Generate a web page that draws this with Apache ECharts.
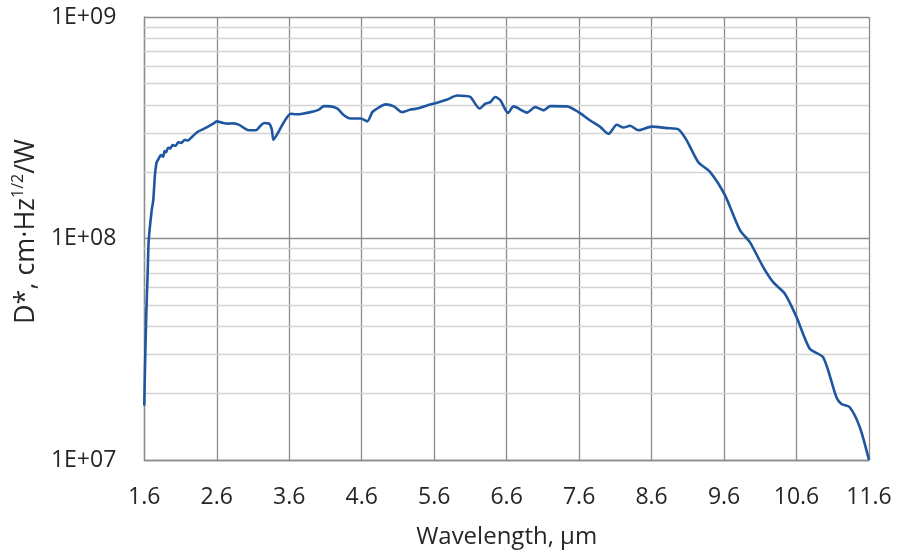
<!DOCTYPE html>
<html>
<head>
<meta charset="utf-8">
<script src="https://cdn.jsdelivr.net/npm/echarts@6/dist/echarts.min.js"></script>
<style>html,body{margin:0;padding:0;background:#fff}#c{width:899px;height:555px}</style>
</head>
<body>
<div id="c"></div>
<script>
// Wavelength (µm)
const wavelength = [1.600,1.610,1.628,1.647,1.661,1.702,1.724,1.747,1.770,1.800,1.830,1.860,1.880,1.900,1.930,1.960,1.990,2.030,2.070,2.110,2.160,2.200,2.250,2.300,2.336,2.400,2.473,2.540,2.601,2.680,2.749,2.830,2.909,2.980,3.046,3.139,3.200,3.253,3.322,3.360,3.382,3.437,3.528,3.621,3.700,3.782,3.896,4.010,4.079,4.172,4.264,4.355,4.447,4.585,4.677,4.746,4.792,4.929,5.044,5.159,5.274,5.366,5.504,5.641,5.779,5.917,6.020,6.100,6.228,6.307,6.375,6.444,6.513,6.619,6.696,6.881,6.995,7.110,7.202,7.432,7.592,7.753,7.891,8.005,8.121,8.212,8.304,8.418,8.603,8.809,8.969,9.085,9.245,9.406,9.612,9.819,9.956,10.140,10.278,10.439,10.600,10.783,10.967,11.151,11.220,11.334,11.472,11.600];
// Specific detectivity D* (cm·Hz^1/2/W)
const detectivity = [1.76e7,2.63e7,4.6e7,7.0e7,9.8e7,1.34e8,1.49e8,1.93e8,2.20e8,2.30e8,2.38e8,2.34e8,2.48e8,2.45e8,2.57e8,2.55e8,2.64e8,2.62e8,2.72e8,2.70e8,2.79e8,2.77e8,2.86e8,2.96e8,3.03e8,3.10e8,3.19e8,3.28e8,3.38e8,3.33e8,3.30e8,3.31e8,3.26e8,3.15e8,3.08e8,3.08e8,3.22e8,3.32e8,3.30e8,3.10e8,2.79e8,2.97e8,3.36e8,3.66e8,3.64e8,3.66e8,3.72e8,3.82e8,3.96e8,3.95e8,3.86e8,3.60e8,3.48e8,3.48e8,3.38e8,3.72e8,3.82e8,4.03e8,3.95e8,3.72e8,3.82e8,3.86e8,3.99e8,4.10e8,4.24e8,4.42e8,4.40e8,4.35e8,3.86e8,4.06e8,4.13e8,4.35e8,4.21e8,3.69e8,3.95e8,3.70e8,3.92e8,3.79e8,3.96e8,3.95e8,3.72e8,3.41e8,3.19e8,2.97e8,3.26e8,3.17e8,3.23e8,3.08e8,3.20e8,3.15e8,3.11e8,2.77e8,2.21e8,2.00e8,1.57e8,1.09e8,9.63e7,7.43e7,6.35e7,5.63e7,4.42e7,3.18e7,2.91e7,1.92e7,1.79e7,1.73e7,1.41e7,1.00e7];
// Tick labels
const xTickLabels = ['1.6','2.6','3.6','4.6','5.6','6.6','7.6','8.6','9.6','10.6','11.6'];
const yTickLabels = ['1E+07','1E+08','1E+09'];
// Minor log gridline values
const minorGridValues = [2e7,3e7,4e7,5e7,6e7,7e7,8e7,9e7,2e8,3e8,4e8,5e8,6e8,7e8,8e8,9e8];

const FONT = 'Open Sans';
const chart = echarts.init(document.getElementById('c'), null, {renderer: 'canvas'});
const seriesData = wavelength.map((w, i) => [w, detectivity[i]]);

chart.setOption({
  animation: false,
  backgroundColor: '#ffffff',
  grid: {left: 143, top: 17, width: 726, height: 443, containLabel: false},
  xAxis: {
    type: 'value', min: 1.6, max: 11.6, interval: 1,
    name: 'Wavelength, µm', nameLocation: 'middle', nameGap: 65,
    nameTextStyle: {fontFamily: FONT, fontSize: 24, color: '#262626'},
    axisLine: {show: true, lineStyle: {color: '#8c8c8c', width: 1.3}},
    axisTick: {show: false},
    axisLabel: {
      fontFamily: FONT, fontSize: 23, color: '#262626', margin: 26,
      formatter: (v) => { const i = Math.round(v - 1.6); return xTickLabels[i] !== undefined ? xTickLabels[i] : ''; }
    },
    splitLine: {show: true, lineStyle: {color: '#8c8c8c', width: 1.3}}
  },
  yAxis: {
    type: 'log', logBase: 10, min: 1e7, max: 1e9,
    name: '{b|D*, cm·Hz}{s|1/2}{b|/W}', nameLocation: 'middle', nameGap: 100, nameRotate: 90,
    nameTextStyle: {
      fontFamily: FONT, color: '#262626', padding: [0, 0, 0, 14],
      rich: {
        b: {fontFamily: FONT, fontSize: 27, color: '#262626', lineHeight: 32, verticalAlign: 'bottom'},
        s: {fontFamily: FONT, fontSize: 16, color: '#262626', lineHeight: 32, verticalAlign: 'top', padding: [2, 0, 0, 0]}
      }
    },
    axisLine: {show: true, lineStyle: {color: '#8c8c8c', width: 1.3}},
    axisTick: {show: false},
    axisLabel: {
      fontFamily: FONT, fontSize: 23, color: '#262626', margin: 28,
      formatter: (v) => { const i = Math.round(Math.log10(v)) - 7; return yTickLabels[i] !== undefined ? yTickLabels[i] : ''; }
    },
    splitLine: {show: true, lineStyle: {color: '#8c8c8c', width: 1.3}}
  },
  series: [
    {
      type: 'line', data: [], z: 1, silent: true,
      markLine: {
        silent: true, symbol: ['none', 'none'], animation: false,
        label: {show: false},
        lineStyle: {color: '#d4d4d4', width: 1.4, type: 'solid'},
        emphasis: {disabled: true},
        data: minorGridValues.map(v => ({yAxis: v}))
      }
    },
    {
      type: 'line', data: seriesData, z: 5,
      showSymbol: false, symbol: 'none', smooth: 0.25,
      lineStyle: {color: '#1f56a0', width: 2.6},
      itemStyle: {color: '#1f56a0'}
    }
  ]
});
</script>
</body>
</html>
